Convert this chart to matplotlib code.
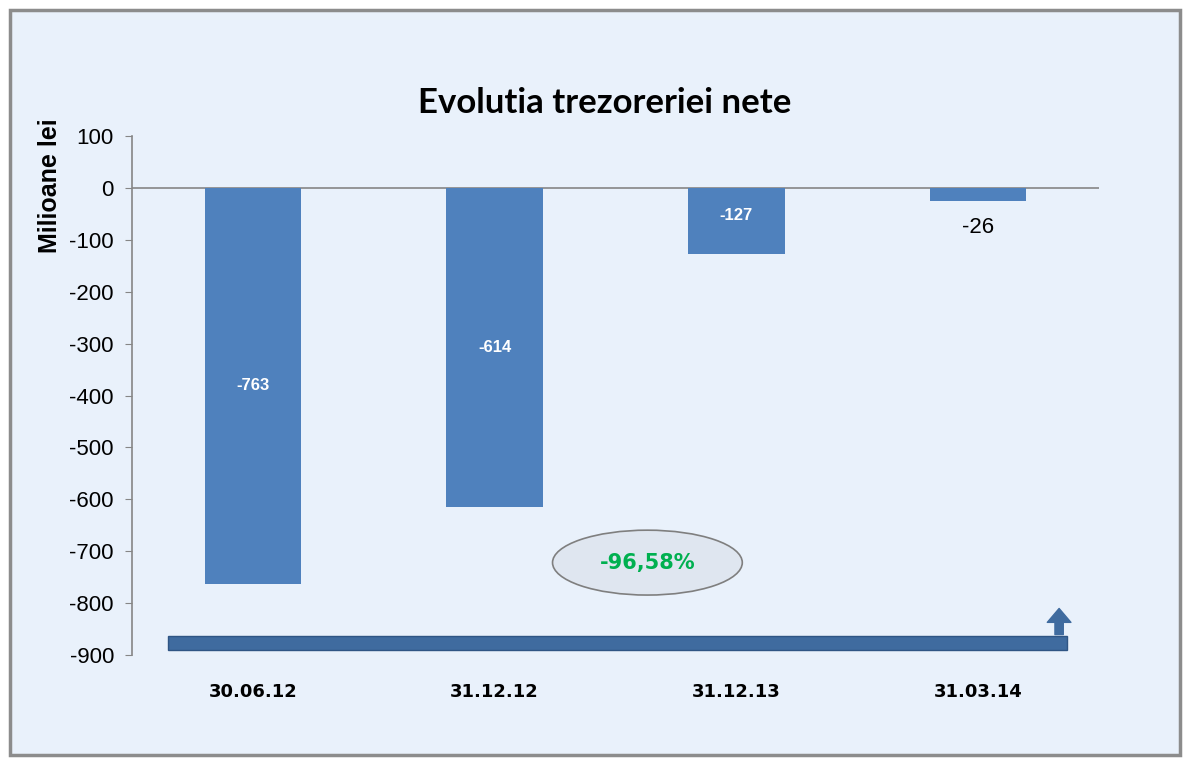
import matplotlib
matplotlib.use("Agg")
import matplotlib.pyplot as plt
from matplotlib.patches import Rectangle, Ellipse

dates = ["30.06.12", "31.12.12", "31.12.13", "31.03.14"]
values = [-763, -614, -127, -26]
change_label = "-96,58%"

bar_color = "#4f81bd"
bg_color = "#e9f1fb"

plt.rcParams["font.family"] = ["Liberation Sans", "DejaVu Sans"]
plt.rcParams["axes.unicode_minus"] = False

fig = plt.figure(figsize=(11.9, 7.59), dpi=100)
fig.patch.set_facecolor("white")

# panel background with border
panel = Rectangle((10 / 1190, 4 / 759), 1170 / 1190, 745 / 759, transform=fig.transFigure,
                  facecolor=bg_color, edgecolor="#8c8c8c", linewidth=2.5, zorder=-5)
fig.patches.append(panel)

ax = fig.add_axes([132 / 1190, 104 / 759, 967 / 1190, 519 / 759])
ax.set_facecolor("none")
ax.set_zorder(1)

x = range(len(dates))
ax.bar(x, values, width=0.4, color=bar_color, zorder=2)
ax.axhline(0, color="#868686", linewidth=1.2, zorder=1)

ax.set_xlim(-0.5, 3.5)
ax.set_ylim(-900, 100)
ax.set_yticks(range(-900, 101, 100))
ax.tick_params(axis="y", labelsize=16, length=5, color="#868686", pad=8)
ax.set_xticks(list(x))
ax.set_xticklabels(dates, fontsize=13, fontweight="bold",
                   family=["Liberation Sans Narrow", "DejaVu Sans"])
ax.tick_params(axis="x", length=0, pad=20)
for s in ["top", "right", "bottom"]:
    ax.spines[s].set_visible(False)
ax.spines["left"].set_color("#868686")
ax.spines["left"].set_linewidth(1.2)

# value labels
for i, v in enumerate(values):
    if v < -100:
        ax.text(i, v / 2 if i < 2 else v / 2 + 10, str(v), color="white", fontsize=12,
                fontweight="bold", ha="center", va="center", zorder=3)
    else:
        ax.text(i, v - 50, str(v), color="black", fontsize=16, ha="center",
                va="center", zorder=3)

# horizontal band and up arrow
ax.add_patch(Rectangle((-0.351, -890), 3.719, 27, facecolor="#3f6b9f",
                       edgecolor="#2f5584", linewidth=1, zorder=3, clip_on=False))
ax.annotate("", xy=(3.335, -805), xytext=(3.335, -866),
            arrowprops=dict(arrowstyle="simple,head_width=1.7,head_length=1.0,tail_width=0.6",
                            color="#3f6b9f"), zorder=3)

# ellipse with percentage
ax.add_patch(Ellipse((1.632, -722), 0.785, 125, facecolor="#dfe6f0",
                     edgecolor="#7f7f7f", linewidth=1.2, zorder=3))
ax.text(1.632, -722, change_label, color="#00b050", fontsize=15, fontweight="bold",
        ha="center", va="center", family=["Liberation Sans Narrow", "DejaVu Sans"], zorder=4)

fig.text(605 / 1190, 1 - 103 / 759, "Evolutia trezoreriei nete", fontsize=25,
         fontweight="bold", ha="center", va="center", family=["Lato", "DejaVu Sans"])
fig.text(50 / 1190, 1 - 186 / 759, "Milioane lei", fontsize=18, fontweight="bold",
         rotation=90, ha="center", va="center")

fig.savefig("out.png", dpi=100)
